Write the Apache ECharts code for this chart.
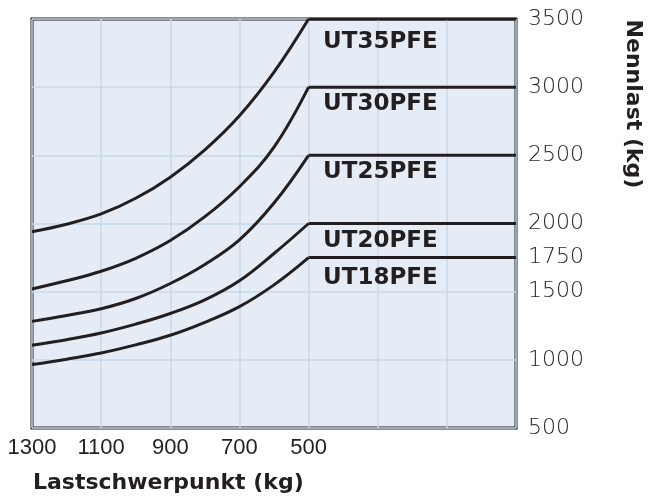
<!DOCTYPE html>
<html><head><meta charset="utf-8">
<script src="https://cdn.jsdelivr.net/npm/echarts@6/dist/echarts.min.js"></script>
<style>html,body{margin:0;padding:0;background:#fff}#c{width:648px;height:497px}</style>
</head><body><div id="c"></div>
<script>
// ---- data ----
const models = ['UT18PFE', 'UT20PFE', 'UT25PFE', 'UT30PFE', 'UT35PFE'];
const loadCenters = [1300, 1200, 1100, 1000, 900, 800, 700, 600, 500];
const ut18 = [965, 1005, 1050, 1110, 1180, 1275, 1390, 1550, 1750];
const ut20 = [1107, 1148, 1197, 1262, 1340, 1440, 1580, 1780, 2000];
const ut25 = [1282, 1325, 1375, 1450, 1560, 1700, 1880, 2150, 2500];
const ut30 = [1520, 1580, 1650, 1745, 1875, 2050, 2270, 2560, 3000];
const ut35 = [1940, 1995, 2070, 2185, 2340, 2540, 2790, 3110, 3500];
const ratedLoads = [1750, 2000, 2500, 3000, 3500];
const flatFrom = 500;
const flatTo = -100;
const xTickLabels = [1300, 1100, 900, 700, 500];
const yTickLabels = [500, 1000, 1500, 1750, 2000, 2500, 3000, 3500];
const xTitle = 'Lastschwerpunkt (kg)';
const yTitle = 'Nennlast (kg)';

// ---- styling ----
const INK = '#231f20';
const GRIDC = '#c9d8ea';
const curves = [ut18, ut20, ut25, ut30, ut35];
const labelDy = [20, 18, 17, 17, 23];

const series = [];
curves.forEach((vals, i) => {
  series.push({
    type: 'line', smooth: 0.4, symbol: 'none', z: 3,
    lineStyle: { color: INK, width: 3 },
    data: loadCenters.map((x, j) => [x, vals[j]])
  });
  series.push({
    type: 'line', symbol: 'none', z: 3,
    lineStyle: { color: INK, width: 3 },
    data: [[flatFrom, ratedLoads[i]], [flatTo, ratedLoads[i]]]
  });
  series.push({
    type: 'scatter', symbolSize: 1, z: 4,
    itemStyle: { color: 'rgba(0,0,0,0)', opacity: 1 },
    label: {
      show: true, position: 'right', distance: 0,
      offset: [14, labelDy[i]],
      formatter: models[i],
      color: INK, fontFamily: 'DejaVu Sans', fontWeight: 'bold', fontSize: 23
    },
    data: [[flatFrom, ratedLoads[i]]]
  });
});

const chart = echarts.init(document.getElementById('c'), null, { renderer: 'canvas' });
chart.setOption({
  animation: false,
  backgroundColor: '#ffffff',
  grid: {
    left: 32, right: 132, top: 19, bottom: 69,
    show: true, backgroundColor: '#e5ecf5', borderColor: INK, borderWidth: 3, z: 0
  },
  xAxis: {
    type: 'value', inverse: true, min: -100, max: 1300, interval: 100,
    axisLine: { show: false }, axisTick: { show: false },
    splitLine: { show: true, lineStyle: { color: [GRIDC, 'rgba(0,0,0,0)'], width: 1.5 } },
    axisLabel: {
      margin: 9, color: INK, fontFamily: '"Liberation Sans Narrow", "Liberation Sans", sans-serif',
      fontSize: 22, alignMaxLabel: 'center', alignMinLabel: 'center',
      formatter: v => xTickLabels.includes(v) ? String(v) : ''
    }
  },
  yAxis: {
    type: 'value', position: 'right', min: 500, max: 3500, interval: 250,
    axisLine: { show: false }, axisTick: { show: false },
    splitLine: { show: true, lineStyle: { color: [GRIDC, 'rgba(0,0,0,0)'], width: 1.5 } },
    axisLabel: {
      margin: 12, color: INK, fontFamily: 'DejaVu Sans', fontWeight: 200, fontSize: 22,
      formatter: v => yTickLabels.includes(v) ? String(v) : ''
    }
  },
  graphic: [
    { type: 'text', left: 33, top: 472,
      style: { text: xTitle, fill: INK, font: 'bold 22px "DejaVu Sans"' } },
    { type: 'text', x: 633, y: 104, rotation: -Math.PI / 2,
      style: { text: yTitle, fill: INK, font: 'bold 22px "DejaVu Sans"', align: 'center', verticalAlign: 'middle' } }
  ],
  series: series
});
</script></body></html>
